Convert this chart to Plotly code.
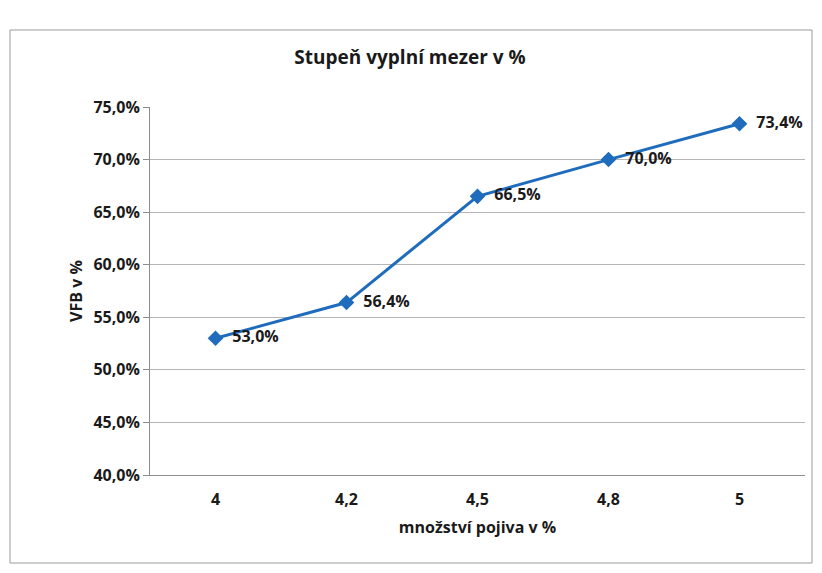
import plotly.graph_objects as go

categories = ["4", "4,2", "4,5", "4,8", "5"]
vfb_values = [53.0, 56.4, 66.5, 70.0, 73.4]
y_tick_values = [40, 45, 50, 55, 60, 65, 70, 75]
y_tick_labels = ["40,0%", "45,0%", "50,0%", "55,0%", "60,0%", "65,0%", "70,0%", "75,0%"]

OFF = 8  # page body margin
W, H = 806, 557
L, R, T, B = 142, 9, 99, 90
pw, ph = W - L - R, H - T - B

def px_x(x):
    return (x - OFF - L) / pw

def px_y(y):
    return (H - B - (y - OFF)) / ph

font_fam = "Open Sans, Liberation Sans, Arial"

fig = go.Figure()
fig.add_trace(go.Scatter(
    x=categories, y=vfb_values,
    mode="lines+markers+text",
    line=dict(color="#1f6cbd", width=3),
    marker=dict(symbol="diamond", size=12, color="#1f6cbd"),
    text=["  " + f"{v:.1f}%".replace(".", ",") for v in vfb_values],
    textposition="middle right",
    textfont=dict(family=font_fam, size=16, color="#1a1a1a", weight="bold"),
    cliponaxis=False,
    showlegend=False,
))

fig.update_layout(
    width=W, height=H,
    margin=dict(l=L, r=R, t=T, b=B),
    paper_bgcolor="white", plot_bgcolor="white",
    title=dict(text="<b>Stupeň vyplní mezer v %</b>", x=(410 - OFF) / W, xanchor="center",
               y=1 - (57 - OFF) / H, yanchor="middle",
               font=dict(family=font_fam, size=19, color="#1a1a1a")),
    xaxis=dict(
        type="category",
        range=[-0.5, 4.5],
        showgrid=False,
        showline=True, linecolor="#8c8c8c", linewidth=1,
        ticks="", ticklabelstandoff=10,
        tickfont=dict(family=font_fam, size=16, color="#1a1a1a", weight="bold"),
        title=dict(text="<b>množství pojiva v %</b>", standoff=12,
                   font=dict(family=font_fam, size=16, color="#1a1a1a")),
    ),
    yaxis=dict(
        range=[40, 75],
        tickvals=y_tick_values, ticktext=y_tick_labels,
        showgrid=True, gridcolor="#b5b5b5", gridwidth=1,
        showline=True, linecolor="#8c8c8c", linewidth=1,
        ticks="outside", ticklen=6, tickcolor="#8c8c8c",
        tickfont=dict(family=font_fam, size=16, color="#1a1a1a", weight="bold"),
        title=dict(text="<b>VFB v %</b>", standoff=6,
                   font=dict(family=font_fam, size=16, color="#1a1a1a")),
        zeroline=False,
    ),
    shapes=[dict(type="rect", xref="paper", yref="paper",
                 x0=px_x(10), x1=px_x(812), y0=px_y(563), y1=px_y(30),
                 line=dict(color="#9a9a9a", width=1), fillcolor="rgba(0,0,0,0)", layer="below")],
)

fig.write_html("out.html")
